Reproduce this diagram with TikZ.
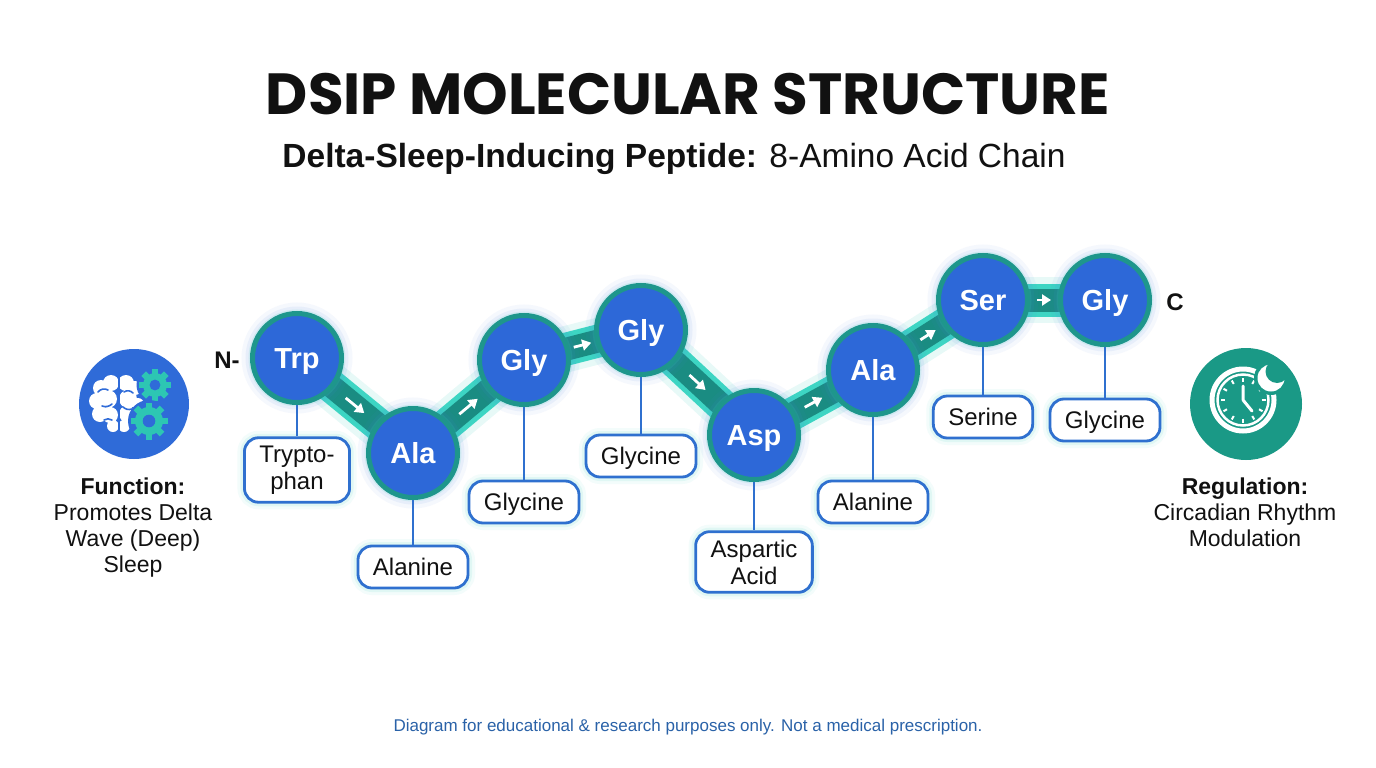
\documentclass[tikz,border=0pt]{standalone}
\usepackage{fontspec}
\setmainfont{Liberation Sans}
\newfontfamily\titlefont{Poppins}
\usetikzlibrary{calc,arrows.meta}
\pgfdeclarelayer{bgzero}\pgfdeclarelayer{bgone}\pgfsetlayers{bgzero,bgone,main}

\definecolor{nodeblue}{HTML}{2D68D8}
\definecolor{nodeteal}{HTML}{1E968C}
\definecolor{bonddark}{HTML}{1A8C82}
\definecolor{bondlight}{HTML}{3DD5C3}
\definecolor{stemblue}{HTML}{2F70CF}
\definecolor{glowteal}{HTML}{3CCFC0}
\definecolor{glowblue}{HTML}{4A7FE0}
\definecolor{gearteal}{HTML}{2DC6B3}
\definecolor{iconblue}{HTML}{2F6BD8}
\definecolor{clockteal}{HTML}{1A9986}
\definecolor{footblue}{HTML}{2A62A8}
\definecolor{ink}{HTML}{111111}

\tikzset{
  aa/.style={circle, fill=nodeblue, draw=nodeteal, line width=5pt, minimum size=89pt, inner sep=0pt,
    text=white, font=\fontsize{29}{30}\selectfont\bfseries, text height=20.8pt, text depth=0pt,
    preaction={draw=glowblue, line width=22pt, opacity=0.05},
    preaction={draw=glowblue, line width=14pt, opacity=0.08},
    preaction={draw=glowteal, line width=8pt, opacity=0.14}},
  lab/.style={draw=stemblue, line width=2.8pt, fill=white, rounded corners=14pt, minimum height=42pt,
    inner xsep=15pt, inner ysep=8pt, align=center, text=ink, font=\fontsize{24}{27}\selectfont,
    preaction={draw=glowteal, line width=14pt, opacity=0.06},
    preaction={draw=glowteal, line width=8pt, opacity=0.10}},
  labone/.style={lab, text height=17.2pt, text depth=0pt},
  stem/.style={draw=stemblue, line width=2.5pt},
  bondglow/.style={draw=glowteal, line width=46pt, opacity=0.12},
  bondedge/.style={draw=bondlight, line width=33pt},
  bondcore/.style={draw=bonddark, line width=23pt},
  arr/.style={draw=white, line width=2.8pt, -{Triangle[length=9pt,width=11pt]}},
  term/.style={font=\fontsize{24}{26}\selectfont\bfseries, text=ink},
  desc/.style={align=center, font=\fontsize{23}{26}\selectfont, text=ink, inner sep=0pt, anchor=north},
}

\newcommand\mygear[4]{%
  \begin{scope}[shift={(#1,#2)}]
    \fill[iconblue] (0,0) circle (#4+2.5);
    \foreach \a in {0,45,...,315}{\fill[gearteal, rotate=\a] (-3.3,#3-1) rectangle (3.3,#4);}
    \fill[gearteal] (0,0) circle (#3);
    \fill[iconblue] (0,0) circle (#3*0.45);
  \end{scope}}

\begin{document}
\begin{tikzpicture}[x=1pt,y=-1pt]
\useasboundingbox (0,0) rectangle (1376,768);
\begin{pgfonlayer}{bgzero}
  \fill[white] (0,0) rectangle (1376,768);
\end{pgfonlayer}

% titles
\node[font=\titlefont\bfseries\fontsize{58}{62}\selectfont, text=ink, anchor=base] (title) at (688,114) {DSIP MOLECULAR STRUCTURE};
\node[font=\fontsize{33.5}{36}\selectfont, text=ink, anchor=base] (sub) at (674,167) {\textbf{Delta-Sleep-Inducing Peptide:} 8-Amino Acid Chain};

% amino acids
\node[aa] (trp) at (297,358) {Trp};
\node[aa] (ala1) at (413,453) {Ala};
\node[aa] (gly1) at (524,360) {Gly};
\node[aa] (gly2) at (641,330) {Gly};
\node[aa] (asp) at (754,435) {Asp};
\node[aa] (ala2) at (873,370) {Ala};
\node[aa] (ser) at (983,300) {Ser};
\node[aa] (gly3) at (1105,300) {Gly};

% bonds
\begin{pgfonlayer}{bgone}
\foreach \a/\b in {trp/ala1, ala1/gly1, gly1/gly2, gly2/asp, asp/ala2, ala2/ser, ser/gly3}{
  \draw[bondglow] (\a.center) -- (\b.center);
  \draw[bondedge] (\a.center) -- (\b.center);
  \draw[bondcore] (\a.center) -- (\b.center);
}
\end{pgfonlayer}
\foreach \a/\b/\h in {trp/ala1/12, ala1/gly1/12, gly1/gly2/9, gly2/asp/11, asp/ala2/10, ala2/ser/9, ser/gly3/7}{
  \coordinate (m) at ($(\a.center)!0.5!(\b.center)$);
  \draw[arr] ($(m)!-\h pt!(\b.center)$) -- ($(m)!\h pt!(\b.center)$);
}

% labels
\node[lab] (trpl) at (297,470) {Trypto-\\phan};
\node[labone] (ala1l) at (413,567) {Alanine};
\node[labone] (gly1l) at (524,502) {Glycine};
\node[labone] (gly2l) at (641,456) {Glycine};
\node[lab] (aspl) at (754,562) {Aspartic\\Acid};
\node[labone] (ala2l) at (873,502) {Alanine};
\node[labone] (serl) at (983,417) {Serine};
\node[labone] (gly3l) at (1105,420) {Glycine};
\foreach \a in {trp,ala1,gly1,gly2,asp,ala2,ser,gly3}{
  \draw[stem] (\a.south) -- (\a l.north);
}

% termini
\node[term] (nterm) at (227,360) {N-};
\node[term] (cterm) at (1175,302) {C};

% left icon: brain and gears
\fill[iconblue] (134,404) circle (55);
\begin{scope}
  \fill[white] (101,388) circle (8) (111,383) circle (8) (97,401) circle (8) (108,399) circle (9)
               (100,414) circle (8) (110,415) circle (8) (113,426) circle (6)
               (126,383) circle (8) (135,388) circle (7) (128,399) circle (9) (138,404) circle (6)
               (127,414) circle (8) (136,418) circle (6) (124,426) circle (6);
  \draw[iconblue, line width=2] (118.5,375) -- (118.5,433);
  \draw[iconblue, line width=1.6, line cap=round] (98,392) to[bend left=40] (108,390)
        (102,406) to[bend right=30] (112,404) (104,420) to[bend left=30] (112,420)
        (124,392) to[bend left=40] (133,393) (123,407) to[bend right=30] (132,409);
\end{scope}
\mygear{155}{385}{12}{16}
\mygear{149}{421}{14}{18.5}
\node[desc] (func) at (133,478) {\textbf{Function:}\\Promotes Delta\\Wave (Deep)\\Sleep};

% right icon: clock and moon
\fill[clockteal] (1246,404) circle (56);
\draw[white, line width=5] (1243,400) circle (31);
\draw[white, line width=2.5] (1243,400) circle (25.5);
\foreach \a in {0,30,...,330}{\draw[white, line width=2] ($(1243,400)+(\a:18.5)$) -- ($(1243,400)+(\a:22.5)$);}
\draw[white, line width=3, line cap=round] (1243,400) -- ++(0,-14) (1243,400) -- ++(9,11);
\begin{scope}
  \clip (1246,404) circle (56);
  \fill[clockteal] (1271,378) circle (17);
  \fill[white] (1271,378) circle (13.5);
  \fill[clockteal] (1277,371.5) circle (11.5);
\end{scope}
\node[desc] (reg) at (1245,478) {\textbf{Regulation:}\\Circadian Rhythm\\Modulation};

% footer
\node[font=\fontsize{17}{19}\selectfont, text=footblue, anchor=base] (foot) at (688,731) {Diagram for educational \& research purposes only. Not a medical prescription.};
\end{tikzpicture}
\end{document}
